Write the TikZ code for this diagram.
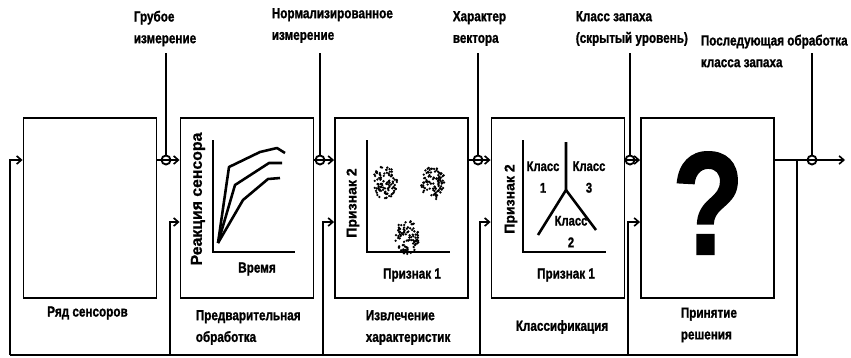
\documentclass[tikz,border=0pt]{standalone}
\usepackage{fontspec}
\setmainfont{Liberation Sans}[FakeStretch=0.8, BoldFont={Liberation Sans Bold}, BoldFeatures={FakeBold=1.2}]
\newfontfamily\axisfont{Liberation Sans}[BoldFont={Liberation Sans Bold}, BoldFeatures={FakeBold=1}]
\usetikzlibrary{arrows.meta}

\tikzset{
    stage/.style={draw, line width=1.6pt, minimum width=3.99cm, minimum height=5.4cm, inner sep=0pt},
    tap/.style={circle, draw, line width=1.6pt, minimum size=0.27cm, inner sep=0pt},
    caption/.style={font=\bfseries\fontsize{12.5}{18.5}\selectfont, align=left, inner sep=0pt},
    axislabel/.style={font=\axisfont\bfseries\fontsize{12}{14}\selectfont, rotate=90, inner sep=0pt},
    classlabel/.style={font=\bfseries\fontsize{12}{18.5}\selectfont, align=center, inner sep=0pt},
    curve/.style={line width=2.2pt, line join=round},
    >={Straight Barb[length=4pt, width=7pt]}
}

\begin{document}
\begin{tikzpicture}[x=0.03cm, y=-0.03cm, line width=1.4pt]
    % Rahmen 851 x 357 px
    \useasboundingbox (0,0) rectangle (851,357);

    % --- STUFEN ---
    \node[stage] (sens) at (90,208) {};
    \node[stage] (pre) at (247,208) {};
    \node[stage] (feat) at (401.5,208) {};
    \node[stage] (cls) at (558,208) {};
    \node[stage] (dec) at (707.5,208) {};

    % --- SIGNALWEG MIT ABGRIFFEN ---
    \node[tap] (t1) at (166,160) {};
    \node[tap] (t2) at (320,160) {};
    \node[tap] (t3) at (478,160) {};
    \node[tap] (t4) at (630,160) {};
    \node[tap] (t5) at (812,160) {};
    \coordinate (out) at (845,160);

    \draw[->] (sens.east |- t1) -- (pre.west |- t1);
    \draw[->] (pre.east |- t2) -- (feat.west |- t2);
    \draw[->] (feat.east |- t3) -- (cls.west |- t3);
    \draw[->] (cls.east |- t4) -- (dec.west |- t4);
    \draw[->] (dec.east |- t5) -- (out);

    % Abgriffe nach oben
    \foreach \x/\t in {166/t1, 320/t2, 478/t3, 630/t4, 812/t5} {
        \coordinate (g-\t) at (\x,53);
        \draw (g-\t) -- (\t.north);
    }

    \node[caption, anchor=west] (l1) at (133,28.5) {Грубое\\измерение};
    \node[caption, anchor=west] (l2) at (271,25.5) {Нормализированное\\измерение};
    \node[caption, anchor=west] (l3) at (452,28.5) {Характер\\вектора};
    \node[caption, anchor=west] (l4) at (575,28.5) {Класс запаха\\(скрытый уровень)};
    \node[caption, anchor=west] (l5) at (700,51) {Последующая обработка\\класса запаха};

    % --- RÜCKFÜHRUNG ---
    \coordinate (ret) at (797,160);
    \coordinate (fb0) at (10,355);
    \coordinate (fy) at (0,222);
    \draw (ret) |- (fb0);
    \draw[->] (fb0) |- (sens.west |- t1);
    \foreach \x/\b in {170/pre, 323/feat, 480/cls, 628/dec} {
        \coordinate (bus-\b) at (\x,355);
        \draw[->] (bus-\b) |- (\b.west |- fy);
    }

    % --- 2. VORVERARBEITUNG ---
    \draw (213,140) -- (213,252) -- (295,252);
    \draw[curve] (218,243) -- (229,167) -- (260,152) -- (277,148) -- (285,153);
    \draw[curve] (218,243) -- (235,185) -- (269,163) -- (282,163);
    \draw[curve] (218,243) -- (243,200) -- (268,179) -- (280,178);
    \node[axislabel, font=\axisfont\bfseries\fontsize{13.5}{14}\selectfont] (ry) at (198,199) {Реакция сенсора};
    \node[caption] (rx) at (257,269) {Время};

    % --- 3. MERKMALE ---
    \draw (367,140) -- (367,252) -- (450,252);
    \pgfmathsetseed{42}
    \foreach \c in {(385,182), (433,183), (407,237)}
        \foreach \i in {1,...,95} {
            \pgfmathsetmacro\ang{360*rnd}
            \pgfmathsetmacro\rr{sqrt(rnd)}
            \fill \c ++({\ang}:{12*\rr} and {17*\rr}) circle (1.3);
        }
    \node[axislabel] (fy2) at (353,203) {Признак 2};
    \node[caption] (fx1) at (412,275) {Признак 1};

    % --- 4. KLASSIFIKATION ---
    \draw (523,140) -- (523,252) -- (606,252);
    \draw[curve] (566,142) -- (566,190) -- (538,235);
    \draw[curve] (566,190) -- (596,230);
    \node[classlabel] (k1) at (543,177) {Класс\\1};
    \node[classlabel] (k3) at (589,177) {Класс\\3};
    \node[classlabel] (k2) at (571,231.5) {Класс\\2};
    \node[axislabel] (cy2) at (511,199) {Признак 2};
    \node[caption] (cx1) at (566,275) {Признак 1};

    % --- 5. ENTSCHEIDUNG ---
    \node[font=\bfseries\fontsize{125}{125}\selectfont, inner sep=0pt] (qm) at (708,203) {?};

    % --- BESCHRIFTUNG UNTEN ---
    \node[caption] (c1) at (87.5,313) {Ряд сенсоров};
    \node[caption, anchor=west] (c2) at (195,327.5) {Предварительная\\обработка};
    \node[caption, anchor=west] (c3) at (365,327.5) {Извлечение\\характеристик};
    \node[caption, anchor=west] (c4) at (515,327) {Классификация};
    \node[caption, anchor=west] (c5) at (680,325) {Принятие\\решения};

\end{tikzpicture}
\end{document}
